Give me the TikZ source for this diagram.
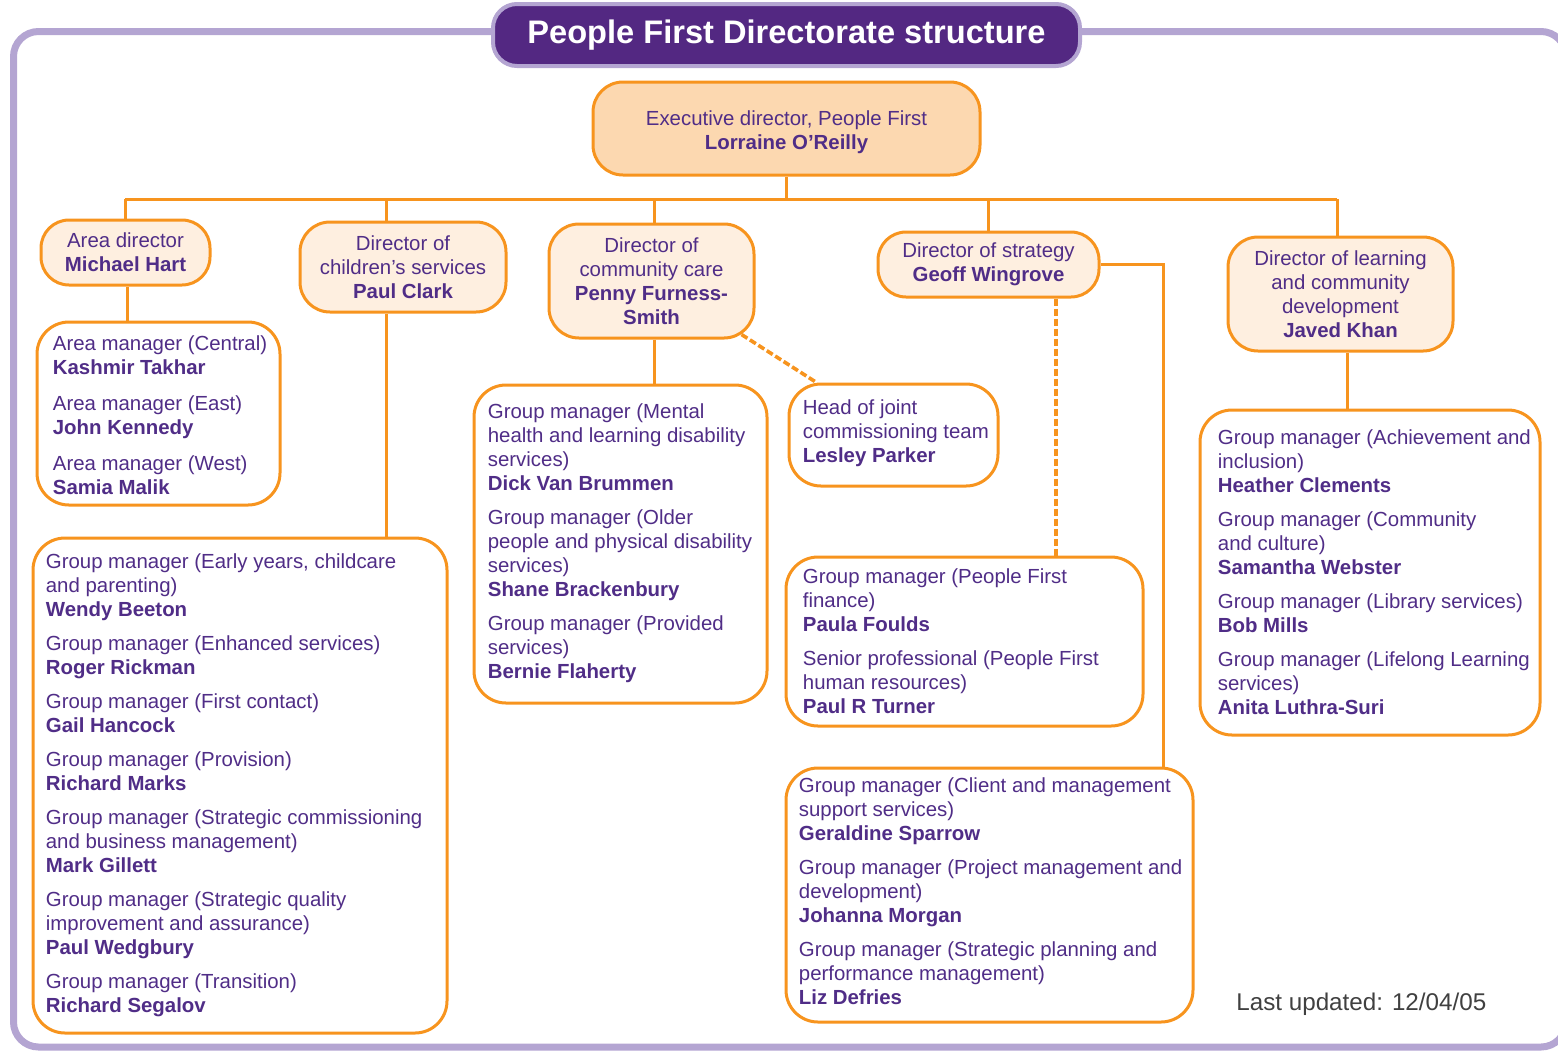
\documentclass[tikz,border=0pt]{standalone}
\usepackage{fontspec}
\setmainfont{Liberation Sans}
\definecolor{borange}{RGB}{247,148,30}
\definecolor{dirfill}{RGB}{254,239,224}
\definecolor{execfill}{RGB}{252,216,176}
\definecolor{tpurple}{RGB}{80,45,135}
\definecolor{titlefill}{RGB}{83,40,130}
\definecolor{lav}{RGB}{180,165,210}
\definecolor{lastgray}{RGB}{64,64,64}
\begin{document}
\begin{tikzpicture}[x=0.5pt,y=-0.5pt,
  txt/.style={text=tpurple, font=\fontsize{10.2}{12}\selectfont},
  dirbox/.style={draw=borange, line width=1.5pt, fill=dirfill, rounded corners=14pt, align=center, txt, inner sep=0pt},
  grpbox/.style={draw=borange, line width=1.5pt, fill=white, rounded corners=16pt, inner sep=0pt},
  grptxt/.style={txt, align=left, anchor=west, inner sep=0pt},
  conn/.style={draw=borange, line width=1.5pt},
  dconn/.style={draw=borange, line width=1.8pt, dash pattern=on 3.5pt off 1.5pt},
]
\useasboundingbox (0,0) rectangle (1558,1051);
% outer frame
\draw[lav, line width=3.5pt, rounded corners=12.5pt] (13.5,31.5) rectangle (1566,1047);
% title
\node[fill=titlefill, draw=lav, line width=2pt, rounded corners=12pt, minimum width=293.5pt, minimum height=31pt, text=white, font=\fontsize{16.3}{18}\selectfont\bfseries] (title) at (786.5,35) {People First Directorate structure};
% executive
\node[dirbox, fill=execfill, minimum width=193.5pt, minimum height=46.5pt, rounded corners=15pt] (exec) at (786.5,128.5) {\rule{0pt}{11.5pt}Executive director, People First\\\textbf{Lorraine O'Reilly}};
% directors
\node[dirbox, minimum width=84.5pt, minimum height=32.5pt] (areadir) at (125.5,252.5) {Area director\\\textbf{Michael Hart}};
\node[dirbox, minimum width=103pt, minimum height=45pt, rounded corners=15pt] (chdir) at (403,267) {Director of\\children's services\\\textbf{Paul Clark}};
\node[dirbox, minimum width=102.5pt, minimum height=57pt, rounded corners=15pt] (ccdir) at (651.5,281) {Director of\\community care\\\textbf{Penny Furness-}\\\textbf{Smith}};
\node[dirbox, minimum width=110.5pt, minimum height=32.5pt] (stdir) at (988.5,264.5) {Director of strategy\\\textbf{Geoff Wingrove}};
\node[dirbox, minimum width=112.5pt, minimum height=57pt, rounded corners=15pt] (lcdir) at (1340.5,294) {Director of learning\\and community\\development\\\textbf{Javed Khan}};
% group boxes
\node[grpbox, minimum width=121.5pt, minimum height=91.5pt] (areagrp) at (158.5,413.5) {};
\node[grptxt] (areatxt) at ([xshift=8.5pt,yshift=-0.8pt]areagrp.west) {Area manager (Central)\\\textbf{Kashmir Takhar}\\[6pt]Area manager (East)\\\textbf{John Kennedy}\\[6pt]Area manager (West)\\\textbf{Samia Malik}};
\node[grpbox, minimum width=207pt, minimum height=247.5pt] (chgrp) at (240,785.5) {};
\node[grptxt] (chtxt) at ([xshift=7pt]chgrp.west) {Group manager (Early years, childcare\\and parenting)\\\textbf{Wendy Beeton}\\[5pt]Group manager (Enhanced services)\\\textbf{Roger Rickman}\\[5pt]Group manager (First contact)\\\textbf{Gail Hancock}\\[5pt]Group manager (Provision)\\\textbf{Richard Marks}\\[5pt]Group manager (Strategic commissioning\\and business management)\\\textbf{Mark Gillett}\\[5pt]Group manager (Strategic quality\\improvement and assurance)\\\textbf{Paul Wedgbury}\\[5pt]Group manager (Transition)\\\textbf{Richard Segalov}};
\node[grpbox, minimum width=146.5pt, minimum height=159pt] (ccgrp) at (620.5,544) {};
\node[grptxt] (cctxt) at ([xshift=7.5pt,yshift=0.5pt]ccgrp.west) {Group manager (Mental\\health and learning disability\\services)\\\textbf{Dick Van Brummen}\\[5pt]Group manager (Older\\people and physical disability\\services)\\\textbf{Shane Brackenbury}\\[5pt]Group manager (Provided\\services)\\\textbf{Bernie Flaherty}};
\node[grpbox, minimum width=104.5pt, minimum height=51pt] (headjt) at (893.5,435) {};
\node[grptxt] (headtxt) at ([xshift=7.5pt,yshift=1pt]headjt.west) {Head of joint\\commissioning team\\\textbf{Lesley Parker}};
\node[grpbox, minimum width=178.5pt, minimum height=84.5pt] (st1) at (964.5,641.5) {};
\node[grptxt] (st1txt) at ([xshift=9pt]st1.west) {Group manager (People First\\finance)\\\textbf{Paula Foulds}\\[5pt]Senior professional (People First\\human resources)\\\textbf{Paul R Turner}};
\node[grpbox, minimum width=203.5pt, minimum height=127pt] (st2) at (989.5,895) {};
\node[grptxt] (st2txt) at ([xshift=7pt,yshift=1.8pt]st2.west) {Group manager (Client and management\\support services)\\\textbf{Geraldine Sparrow}\\[5pt]Group manager (Project management and\\development)\\\textbf{Johanna Morgan}\\[5pt]Group manager (Strategic planning and\\performance management)\\\textbf{Liz Defries}};
\node[grpbox, minimum width=170pt, minimum height=162.5pt] (lcgrp) at (1370,572.5) {};
\node[grptxt] (lctxt) at ([xshift=9.5pt]lcgrp.west) {Group manager (Achievement and\\inclusion)\\\textbf{Heather Clements}\\[5pt]Group manager (Community\\and culture)\\\textbf{Samantha Webster}\\[5pt]Group manager (Library services)\\\textbf{Bob Mills}\\[5pt]Group manager (Lifelong Learning\\services)\\\textbf{Anita Luthra-Suri}};
% last updated
\node[text=lastgray, font=\fontsize{12.1}{14}\selectfont, anchor=west, inner sep=0pt] (upd) at (1236,1004) {Last updated: 12/04/05};
% connectors
\coordinate (b1) at (125,199);
\coordinate (b2) at (386,199);
\coordinate (b3) at (654,199);
\coordinate (b4) at (988,199);
\coordinate (b5) at (1337,199);
\coordinate (a1) at (127,0);
\coordinate (l1) at (1347,0);
\coordinate (s1) at (1056,0);
\coordinate (s2) at (1163,0);
\draw[conn] (b1) -- (b5);
\draw[conn] (exec.south) -- (exec.south |- b1);
\draw[conn] (b1) -- (b1 |- areadir.north);
\draw[conn] (b2) -- (b2 |- chdir.north);
\draw[conn] (b3) -- (b3 |- ccdir.north);
\draw[conn] (b4) -- (b4 |- stdir.north);
\draw[conn] (b5) -- (b5 |- lcdir.north);
\draw[conn] (areadir.south -| a1) -- (areagrp.north -| a1);
\draw[conn] (chdir.south -| b2) -- (chgrp.north -| b2);
\draw[conn] (ccdir.south -| b3) -- (ccgrp.north -| b3);
\draw[conn] (lcdir.south -| l1) -- (lcgrp.north -| l1);
\draw[dconn] ([shift={(-14,-5)}]ccdir.south east) -- ([shift={(29,0)}]headjt.north west);
\draw[dconn] (stdir.south -| s1) -- (st1.north -| s1);
\draw[conn] (stdir.east) -- (stdir.east -| s2) -- (s2 |- st2.north);
\end{tikzpicture}
\end{document}
